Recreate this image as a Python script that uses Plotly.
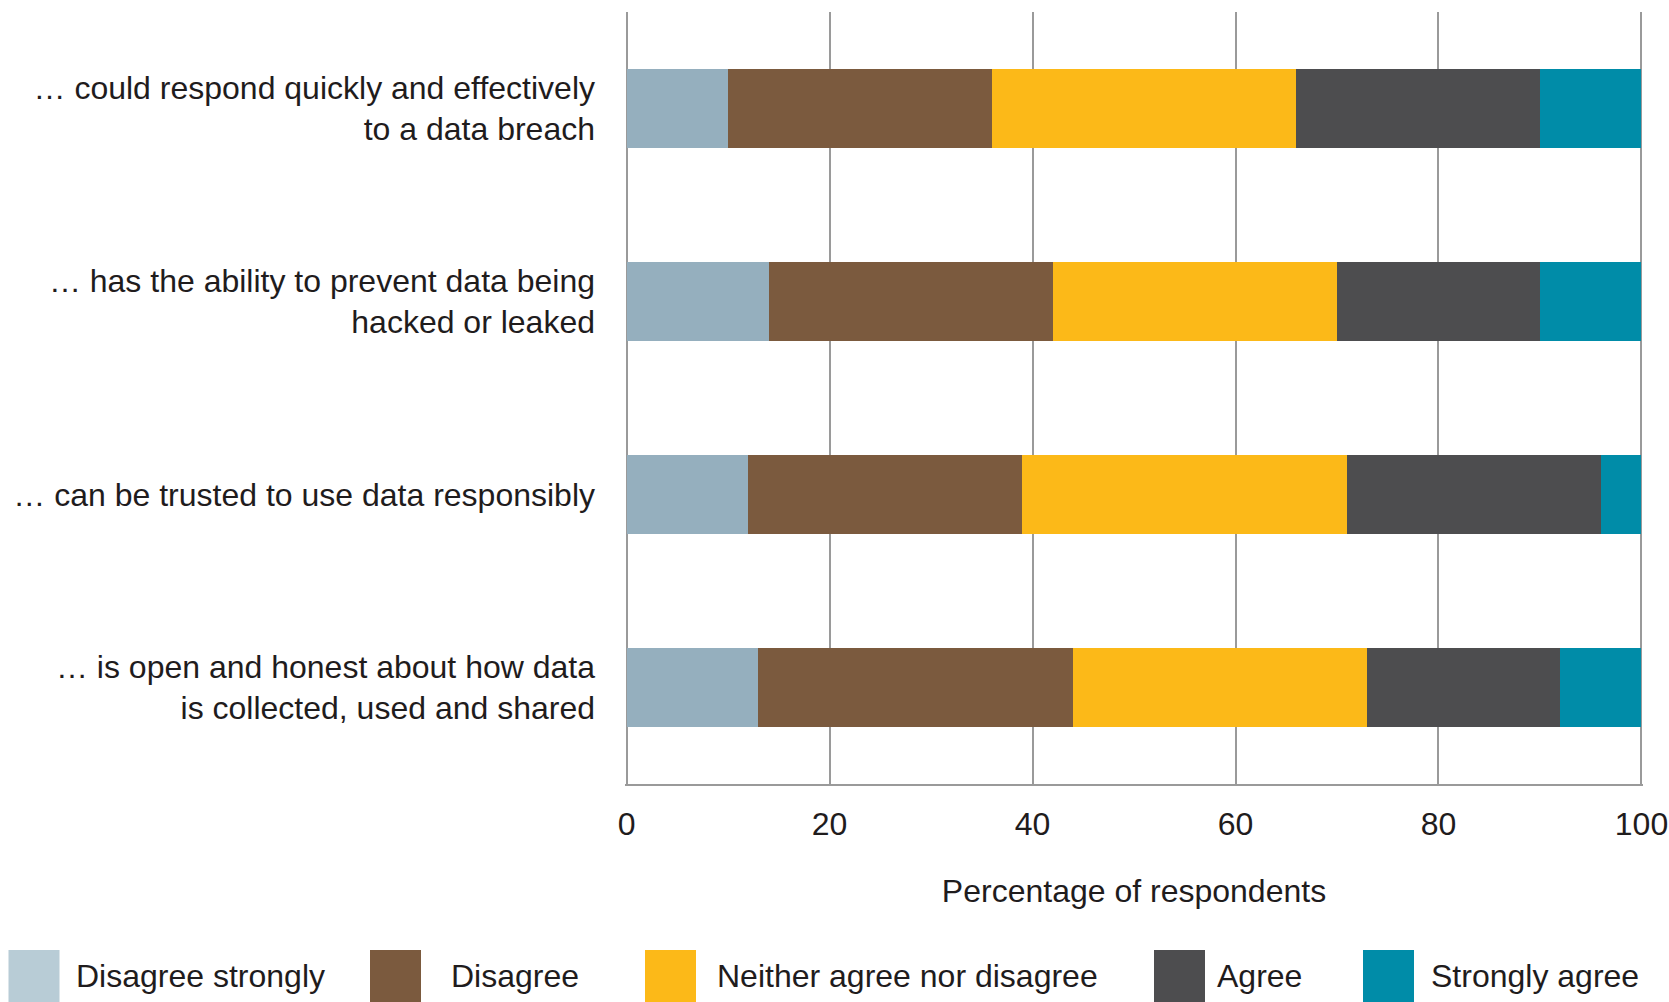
import plotly.graph_objects as go

# Survey statements (top to bottom)
statements = [
    "… could respond quickly and effectively<br>to a data breach",
    "… has the ability to prevent data being<br>hacked or leaked",
    "… can be trusted to use data responsibly",
    "… is open and honest about how data<br>is collected, used and shared",
]

# Response categories and their share of respondents (%) per statement
responses = ["Disagree strongly", "Disagree", "Neither agree nor disagree", "Agree", "Strongly agree"]
disagree_strongly = [10, 14, 12, 13]
disagree = [26, 28, 27, 31]
neither = [30, 28, 32, 29]
agree = [24, 20, 25, 19]
strongly_agree = [10, 10, 4, 8]

series = [disagree_strongly, disagree, neither, agree, strongly_agree]
bar_colors = ["#95AFBE", "#7B5A3E", "#FCB918", "#4D4D4F", "#008CA8"]
swatch_colors = ["#B8CCD6", "#7B5A3E", "#FCB918", "#4D4D4F", "#008CA8"]

x_ticks = [0, 20, 40, 60, 80, 100]

FONT = "Liberation Sans, Arial, Helvetica, sans-serif"
TEXT = "#1f1c1d"
GRID = "#9a9a9a"

W, H = 1669, 1002
L, R, T, B = 625, 26, 12, 218
PW, PH = W - L - R, H - T - B


def px_x(x):
    return (x - L) / PW


def px_y(y):
    return (H - B - y) / PH


fig = go.Figure()
for name, vals, col in zip(responses, series, bar_colors):
    fig.add_trace(go.Bar(
        y=statements, x=vals, name=name, orientation="h",
        marker=dict(color=col, line=dict(width=0)),
        showlegend=False,
    ))

# Legend drawn as large swatches with labels along the bottom
swatch_left = [8.5, 370, 645, 1154, 1363]
label_left = [74, 449, 715, 1215, 1429]
shapes = []
annotations = []
for name, col, sx, lx in zip(responses, swatch_colors, swatch_left, label_left):
    shapes.append(dict(
        type="rect", xref="paper", yref="paper",
        x0=px_x(sx), x1=px_x(sx + 51), y0=px_y(950), y1=px_y(1002),
        fillcolor=col, line=dict(width=0), layer="above",
    ))
    annotations.append(dict(
        xref="paper", yref="paper", x=px_x(lx), y=px_y(976),
        xanchor="left", yanchor="middle", showarrow=False,
        text=name, font=dict(family=FONT, size=32, color=TEXT),
    ))

fig.update_layout(
    barmode="stack",
    bargap=0.595,
    width=W, height=H,
    margin=dict(l=L, r=R, t=T, b=B, pad=0, autoexpand=False),
    paper_bgcolor="white",
    plot_bgcolor="white",
    font=dict(family=FONT, size=32, color=TEXT),
    shapes=shapes,
    annotations=annotations,
    xaxis=dict(
        range=[-0.15, 100.15],
        tickvals=x_ticks,
        ticktext=[str(v) for v in x_ticks],
        showgrid=True, gridcolor=GRID, gridwidth=1.5,
        zeroline=False,
        showline=True, linecolor=GRID, linewidth=2,
        ticks="", ticklabelstandoff=11,
        ticklabeloverflow="allow",
        automargin=False,
        tickfont=dict(family=FONT, size=32, color=TEXT),
        title=dict(text="Percentage of respondents", standoff=38,
                   font=dict(family=FONT, size=32, color=TEXT)),
        fixedrange=True,
    ),
    yaxis=dict(
        categoryorder="array",
        categoryarray=statements,
        autorange="reversed",
        showgrid=False, zeroline=False, showline=False,
        ticks="", ticklabelstandoff=29,
        automargin=False,
        tickfont=dict(family=FONT, size=32, color=TEXT),
        fixedrange=True,
    ),
)

fig.write_html("out.html")
